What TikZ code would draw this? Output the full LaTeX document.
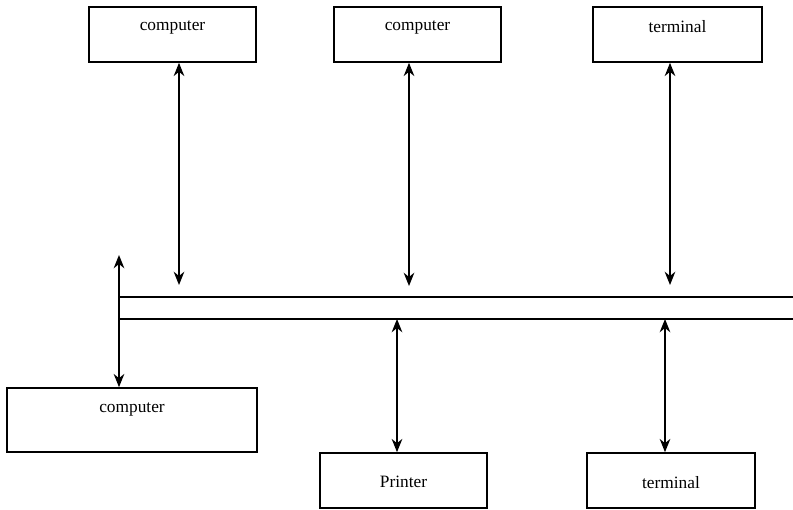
\documentclass[tikz,border=0pt]{standalone}
\usepackage{fontspec}
\setmainfont{Liberation Serif}
\usetikzlibrary{arrows.meta}
\begin{document}
\begin{tikzpicture}[x=0.75pt,y=-0.75pt,
  box/.style 2 args={draw, line width=1.2pt, inner sep=0pt, minimum width=#1*0.75pt, minimum height=#2*0.75pt},
  lbl/.style={font=\fontsize{13}{15}\selectfont, inner sep=0pt},
  link/.style={line width=1pt, {Stealth[length=10pt,width=8pt]}-{Stealth[length=10pt,width=8pt]}},
  busline/.style={line width=1.2pt}]
\useasboundingbox (0,0) rectangle (793,510);
% boxes
\node[box={167}{55}, label={[lbl, yshift=5.6pt]center:computer}] (tl) at (172.5,34.5) {};
\node[box={167}{55}, label={[lbl, yshift=5.6pt]center:computer}] (tm) at (417.5,34.5) {};
\node[box={169}{55}, label={[lbl, yshift=5.6pt]center:terminal}] (tr) at (677.5,34.5) {};
\node[box={250}{64}, label={[lbl, yshift=8.2pt]center:computer}] (bl) at (132,420) {};
\node[box={167}{55}, label={[lbl, yshift=-0.8pt]center:Printer}] (pr) at (403.5,480.5) {};
\node[box={168}{55}, label={[lbl, yshift=-1.5pt]center:terminal}] (bt) at (671,480.5) {};
% bus
\coordinate (busTR) at (793,297);
\coordinate (busTL) at (119,297);
\coordinate (busBL) at (119,319);
\coordinate (busBR) at (793,319);
\draw[busline] (busTR) -- (busTL) -- (busBL) -- (busBR);
% free ends of connectors
\coordinate (e1) at (179,285);
\coordinate (e2) at (409,286);
\coordinate (e3) at (670,285);
\coordinate (e4) at (119,255);
\coordinate (e5) at (397,319);
\coordinate (e6) at (665,319);
% connectors
\draw[link] (tl.south -| e1) -- (e1);
\draw[link] (tm.south -| e2) -- (e2);
\draw[link] (tr.south -| e3) -- (e3);
\draw[link] (e4) -- (bl.north -| e4);
\draw[link] (e5) -- (pr.north -| e5);
\draw[link] (e6) -- (bt.north -| e6);
\end{tikzpicture}
\end{document}
